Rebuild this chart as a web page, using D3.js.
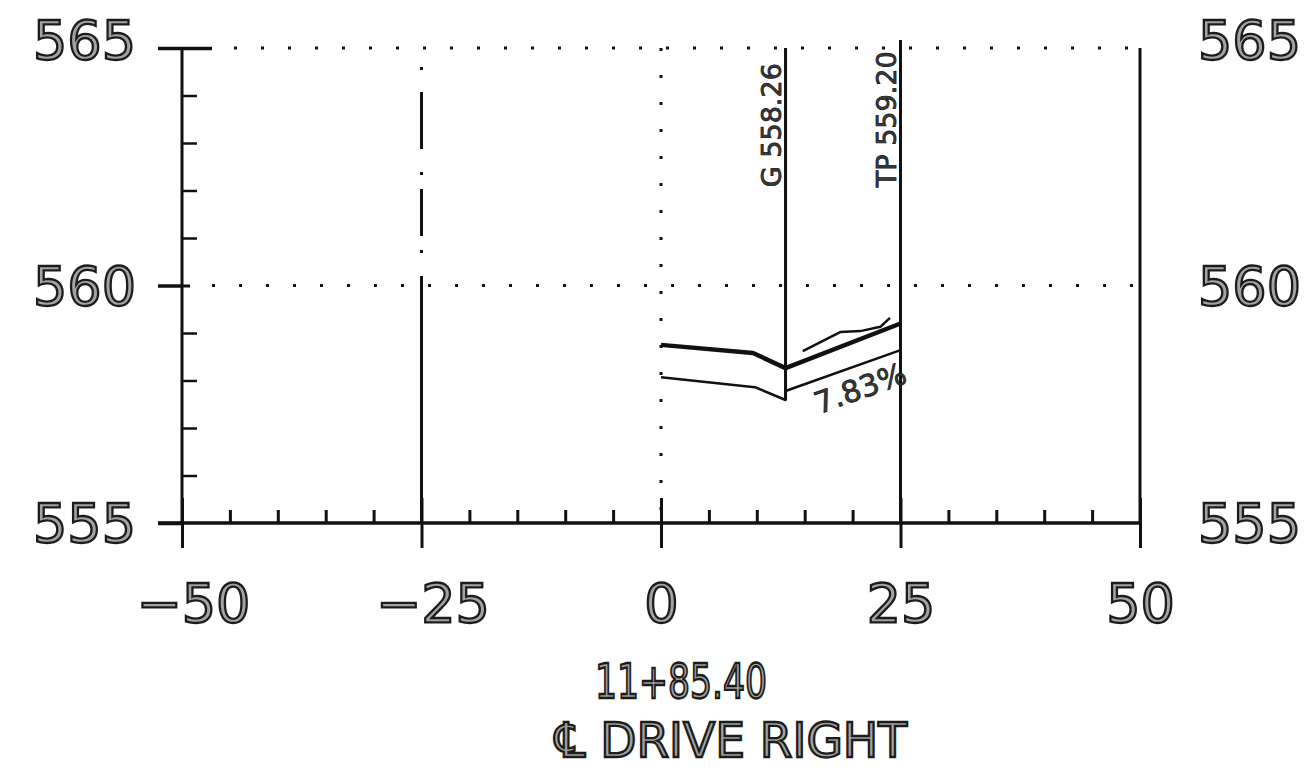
<!DOCTYPE html>
<html>
<head>
<meta charset="utf-8">
<script src="https://cdn.jsdelivr.net/npm/d3@7"></script>
<style>
  body { margin: 0; background: #fff; }
  .big { font-family: "DejaVu Sans", sans-serif; fill: #a3a3a3; stroke: #1c1c1c; stroke-width: 2.3px; }
  .small { font-family: "DejaVu Sans", sans-serif; fill: #3a3a3a; stroke: #111; stroke-width: 0.7px; }
  .tick line { stroke: #111; }
</style>
</head>
<body>
<div id="container"></div>
<script>
/* CONSTANTS AND GLOBALS */
const width = 1308,
  height = 771,
  margin = {top: 48, bottom: 248, left: 182, right: 168};

/* DATA */
const stationTicks = [-50, -25, 0, 25, 50];
const stationMinor = [-45, -40, -35, -30, -20, -15, -10, -5, 5, 10, 15, 20, 30, 35, 40, 45];
const elevTicks = [555, 560, 565];
const elevMinor = [556, 557, 558, 559, 561, 562, 563, 564];

// proposed finished grade (thick)
const gradeOffsets = [0, 9.6, 13, 25];
const gradeElev = [558.75, 558.58, 558.26, 559.20];

// bottom of pavement section (thin)
const baseOffsets = [0, 9.8, 13, 13, 25];
const baseElev = [558.07, 557.86, 557.59, 557.78, 558.64];

// existing ground (thin)
const existOffsets = [14.8, 18.7, 20.8, 22.9, 23.9];
const existElev = [558.62, 559.02, 559.04, 559.13, 559.32];

const callouts = [
  {offset: 13, label: "G 558.26", top: 565, bottom: 557.59},
  {offset: 25, label: "TP 559.20", top: 565.17, bottom: 555}
];
const slopeLabel = "7.83%";
const titleLines = ["11+85.40", "\u2104 DRIVE RIGHT"];

/* SCALES */
const xScale = d3.scaleLinear()
  .domain([-50, 50])
  .range([margin.left, width - margin.right]);

const yScale = d3.scaleLinear()
  .domain([555, 565])
  .range([height - margin.bottom, margin.top]);

const svg = d3.select("#container")
  .append("svg")
  .attr("width", width)
  .attr("height", height);

svg.append("rect").attr("width", width).attr("height", height).attr("fill", "#fff");

const ink = "#111";

// dotted grid lines at 560 and 565
svg.selectAll(".hgrid")
  .data([560, 565])
  .join("line")
  .attr("class", "hgrid")
  .attr("x1", d => xScale(-50) + (d === 565 ? 30 : 8))
  .attr("x2", xScale(50))
  .attr("y1", d => yScale(d))
  .attr("y2", d => yScale(d))
  .attr("stroke", ink)
  .attr("stroke-width", 3)
  .attr("stroke-dasharray", "3,24")
  .attr("stroke-dashoffset", -22);

// dotted vertical at centreline offset 0
svg.append("line")
  .attr("x1", xScale(0)).attr("x2", xScale(0))
  .attr("y1", yScale(565)).attr("y2", yScale(555))
  .attr("stroke", ink)
  .attr("stroke-width", 3)
  .attr("stroke-dasharray", "3,24");

// -25 line: dash-dot upper part, solid lower part
svg.append("line")
  .attr("x1", xScale(-25)).attr("x2", xScale(-25))
  .attr("y1", yScale(564.6)).attr("y2", yScale(560.5))
  .attr("stroke", ink)
  .attr("stroke-width", 3)
  .attr("stroke-dasharray", "3,22,57,23,3,14,47,14,3,40");
svg.append("line")
  .attr("x1", xScale(-25)).attr("x2", xScale(-25))
  .attr("y1", yScale(560.2)).attr("y2", yScale(555))
  .attr("stroke", ink)
  .attr("stroke-width", 3);

// left axis spine
svg.append("line")
  .attr("x1", xScale(-50)).attr("x2", xScale(-50))
  .attr("y1", yScale(565)).attr("y2", yScale(555))
  .attr("stroke", ink).attr("stroke-width", 3);

// right boundary
svg.append("line")
  .attr("x1", xScale(50)).attr("x2", xScale(50))
  .attr("y1", yScale(565)).attr("y2", yScale(555))
  .attr("stroke", ink).attr("stroke-width", 3);

// bottom axis line
svg.append("line")
  .attr("x1", xScale(-50) - 24).attr("x2", xScale(50))
  .attr("y1", yScale(555)).attr("y2", yScale(555))
  .attr("stroke", ink).attr("stroke-width", 3.5);

// AXES
const xMinor = d3.axisBottom(xScale).tickValues(stationMinor).tickSize(-13).tickFormat("");
svg.append("g")
  .attr("transform", `translate(0,${yScale(555)})`)
  .call(xMinor)
  .call(g => g.select(".domain").remove())
  .call(g => g.selectAll(".tick line").attr("stroke-width", 3));

const xUp = d3.axisBottom(xScale).tickValues(stationTicks).tickSize(-25).tickFormat("");
svg.append("g")
  .attr("transform", `translate(0,${yScale(555)})`)
  .call(xUp)
  .call(g => g.select(".domain").remove())
  .call(g => g.selectAll(".tick line").attr("stroke-width", 3));

const xAxis = d3.axisBottom(xScale)
  .tickValues(stationTicks)
  .tickSize(25)
  .tickPadding(36)
  .tickFormat(d => d < 0 ? "\u2212" + Math.abs(d) : d);
svg.append("g")
  .attr("transform", `translate(0,${yScale(555)})`)
  .call(xAxis)
  .call(g => g.select(".domain").remove())
  .call(g => g.selectAll(".tick line").attr("stroke-width", 3))
  .call(g => g.selectAll(".tick text")
    .attr("class", "big")
    .attr("font-size", 54)
    .attr("dx", d => d < 0 ? 11 : 0));

const yMinor = d3.axisRight(yScale).tickValues(elevMinor).tickSize(15).tickFormat("");
svg.append("g")
  .attr("transform", `translate(${xScale(-50)},0)`)
  .call(yMinor)
  .call(g => g.select(".domain").remove())
  .call(g => g.selectAll(".tick line").attr("stroke-width", 2.5));

svg.append("g")
  .attr("transform", `translate(${xScale(-50)},0)`)
  .call(d3.axisRight(yScale).tickValues([565]).tickSize(30).tickFormat(""))
  .call(g => g.select(".domain").remove())
  .call(g => g.selectAll(".tick line").attr("stroke-width", 3.5));
svg.append("g")
  .attr("transform", `translate(${xScale(-50)},0)`)
  .call(d3.axisRight(yScale).tickValues([560]).tickSize(8).tickFormat(""))
  .call(g => g.select(".domain").remove())
  .call(g => g.selectAll(".tick line").attr("stroke-width", 3));

const yAxis = d3.axisLeft(yScale).tickValues(elevTicks).tickSize(24).tickPadding(22).tickFormat(d3.format("d"));
svg.append("g")
  .attr("transform", `translate(${xScale(-50)},0)`)
  .call(yAxis)
  .call(g => g.select(".domain").remove())
  .call(g => g.selectAll(".tick line").attr("stroke-width", 3.5))
  .call(g => g.selectAll(".tick text")
    .attr("class", "big")
    .attr("font-size", 54)
    .attr("dy", d => d === 565 ? "0.2em" : "0.35em"));

const yRight = d3.axisRight(yScale).tickValues(elevTicks).tickSize(0).tickPadding(58).tickFormat(d3.format("d"));
svg.append("g")
  .attr("transform", `translate(${xScale(50)},0)`)
  .call(yRight)
  .call(g => g.select(".domain").remove())
  .call(g => g.selectAll(".tick text")
    .attr("class", "big")
    .attr("font-size", 54)
    .attr("dy", d => d === 565 ? "0.2em" : "0.35em"));

// CALLOUT VERTICALS + LABELS
svg.selectAll(".callout")
  .data(callouts)
  .join("line")
  .attr("class", "callout")
  .attr("x1", d => xScale(d.offset)).attr("x2", d => xScale(d.offset))
  .attr("y1", d => yScale(d.top)).attr("y2", d => yScale(d.bottom))
  .attr("stroke", ink).attr("stroke-width", 3);

svg.selectAll(".calloutText")
  .data(callouts)
  .join("text")
  .attr("class", "small calloutText")
  .attr("font-size", 27)
  .attr("transform", d => `translate(${xScale(d.offset) - 5},${yScale(562.07)}) rotate(-90)`)
  .text(d => d.label);

// PROFILE LINES
const lineGen = d3.line()
  .x(d => xScale(d[0]))
  .y(d => yScale(d[1]));

const profiles = [
  {off: baseOffsets, elev: baseElev, w: 2.5},
  {off: existOffsets, elev: existElev, w: 2.5},
  {off: gradeOffsets, elev: gradeElev, w: 4.5}
];

svg.selectAll(".profile")
  .data(profiles)
  .join("path")
  .attr("class", "profile")
  .attr("fill", "none")
  .attr("stroke", ink)
  .attr("stroke-linejoin", "round")
  .attr("stroke-width", d => d.w)
  .attr("d", d => lineGen(d.off.map((o, i) => [o, d.elev[i]])));

// slope label along the lower line
const p1 = [xScale(baseOffsets[3]), yScale(baseElev[3])];
const p2 = [xScale(baseOffsets[4]), yScale(baseElev[4])];
const ang = Math.atan2(p2[1] - p1[1], p2[0] - p1[0]) * 180 / Math.PI;
const mx = xScale(20), my = yScale(d3.interpolateNumber(baseElev[3], baseElev[4])((20 - 13) / 12));
svg.append("text")
  .attr("class", "small")
  .attr("font-size", 30)
  .attr("text-anchor", "middle")
  .attr("transform", `translate(${mx},${my}) rotate(${ang}) translate(0,33)`)
  .text(slopeLabel);

// TITLE
svg.selectAll(".title")
  .data(titleLines)
  .join("text")
  .attr("class", "big title")
  .attr("font-size", 48)
  .attr("text-anchor", "middle")
  .attr("x", (d, i) => i === 0 ? 681 : 731)
  .attr("y", (d, i) => i === 0 ? 698 : 757)
  .attr("textLength", (d, i) => i === 0 ? 172 : 352)
  .attr("lengthAdjust", "spacingAndGlyphs")
  .text(d => d);
</script>
</body>
</html>
